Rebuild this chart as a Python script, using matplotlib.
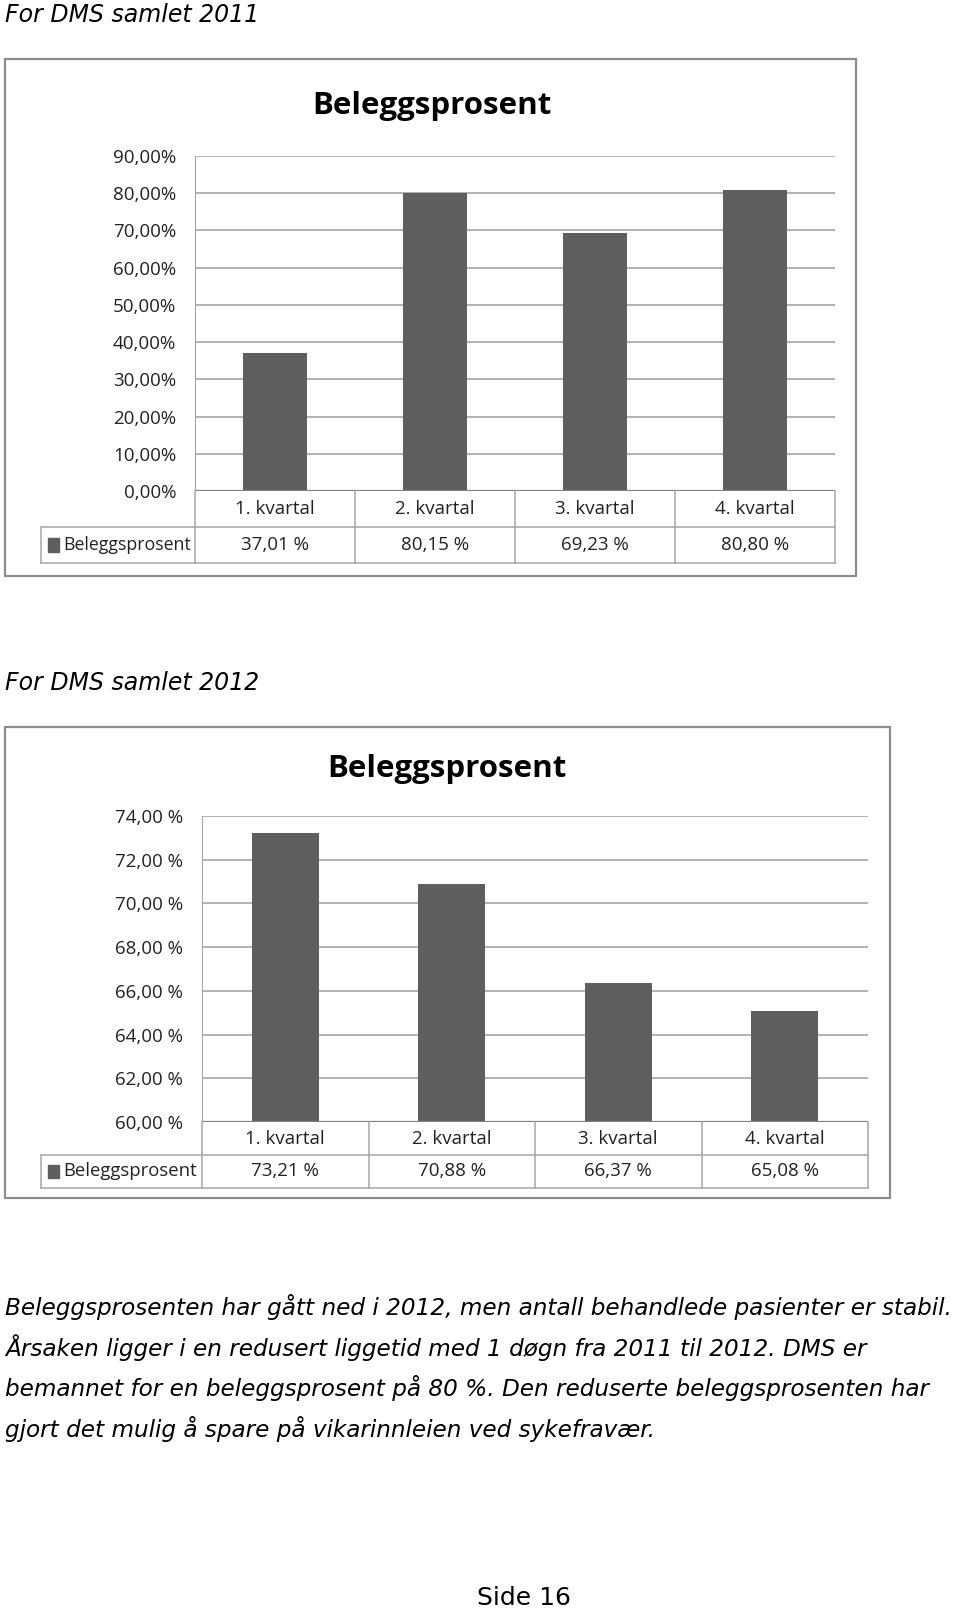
import matplotlib
matplotlib.use("Agg")
import matplotlib.pyplot as plt
from matplotlib.patches import Rectangle
from matplotlib.lines import Line2D

# ---------------- data ----------------
categories = ["1. kvartal", "2. kvartal", "3. kvartal", "4. kvartal"]
series_name = "Beleggsprosent"
values_2011 = [37.01, 80.15, 69.23, 80.80]
values_2012 = [73.21, 70.88, 66.37, 65.08]
yticks_2011 = [0, 10, 20, 30, 40, 50, 60, 70, 80, 90]
yticks_2012 = [60, 62, 64, 66, 68, 70, 72, 74]
heading_2011 = "For DMS samlet 2011"
heading_2012 = "For DMS samlet 2012"
chart_title = "Beleggsprosent"
paragraph = [
    "Beleggsprosenten har gått ned i 2012, men antall behandlede pasienter er stabil.",
    "Årsaken ligger i en redusert liggetid med 1 døgn fra 2011 til 2012. DMS er",
    "bemannet for en beleggsprosent på 80 %. Den reduserte beleggsprosenten har",
    "gjort det mulig å spare på vikarinnleien ved sykefravær.",
]
footer = "Side 16"

# ---------------- layout helpers ----------------
W, H = 960, 1611
fig = plt.figure(figsize=(W / 100, H / 100), dpi=100)
fig.patch.set_facecolor("white")

BAR = "#5f5f5f"
GRID = "#a6a6a6"
FRAME = "#8c8c8c"
CHART_FONT = ["Open Sans", "DejaVu Sans"]


def ax_px(l, t, r, b, **kw):
    a = fig.add_axes([l / W, 1 - b / H, (r - l) / W, (b - t) / H], **kw)
    a.patch.set_alpha(0)
    return a


def fx(x):
    return x / W


def fy(y):
    return 1 - y / H


def draw_chart(frame, plot, legend_left, row_h, values, yticks, sep, font, tsize, lsize,
               title_y, title_x):
    fl, ft, fr, fb = frame
    fig.patches.append(Rectangle((fx(fl), fy(fb)), (fr - fl) / W, (fb - ft) / H,
                                 transform=fig.transFigure, facecolor="none",
                                 edgecolor=FRAME, linewidth=1.6, zorder=-1))
    fig.text(fx(title_x), fy(title_y), chart_title, ha="center", va="center",
             fontsize=22.5, fontweight="bold", family=["Open Sans", "DejaVu Sans"])
    pl, pt, pr, pb = plot
    ax = ax_px(pl, pt, pr, pb)
    n = len(categories)
    xs = [i + 0.5 for i in range(n)]
    ax.bar(xs, values, width=0.4, color=BAR, zorder=3)
    ax.set_xlim(0, n)
    ax.set_ylim(yticks[0], yticks[-1])
    ax.set_yticks(yticks)
    ax.set_yticklabels([f"{t:.2f}".replace(".", ",") + sep + "%" for t in yticks],
                       family=font, fontsize=tsize, color="#222222")
    ax.tick_params(axis="y", length=0, pad=13.5)
    ax.set_xticks([])
    ax.yaxis.grid(True, color=GRID, linewidth=1.2, zorder=0)
    ax.set_axisbelow(True)
    for s in ["right", "bottom", "top"]:
        ax.spines[s].set_visible(False)
    ax.spines["left"].set_color(GRID)
    ax.axhline(yticks[0], color="#808080", linewidth=1.6, zorder=4)

    # data table under the plot
    tax = ax_px(legend_left, pb, pr, pb + 2 * row_h)
    tax.set_xlim(legend_left, pr)
    tax.set_ylim(2, 0)
    tax.axis("off")
    colw = (pr - pl) / n
    edges = [pl + i * colw for i in range(n + 1)]
    lc = GRID
    tax.add_line(Line2D([legend_left, pr], [1, 1], color=lc, lw=1.1))
    tax.add_line(Line2D([legend_left, pr], [2, 2], color=lc, lw=1.1, clip_on=False))
    for e in edges:
        tax.add_line(Line2D([e, e], [0, 2], color=lc, lw=1.1, clip_on=False))
    tax.add_line(Line2D([legend_left, legend_left], [1, 2], color=lc, lw=1.1, clip_on=False))
    for i, c in enumerate(categories):
        cx = (edges[i] + edges[i + 1]) / 2
        tax.text(cx, 0.5, c, ha="center", va="center", family=font, fontsize=tsize, color="#222222")
        tax.text(cx, 1.5, f"{values[i]:.2f}".replace(".", ",") + " %", ha="center", va="center",
                 family=font, fontsize=tsize, color="#222222")
    tax.add_patch(Rectangle((legend_left + 7, 1.3), 11, 0.4, color=BAR))
    tax.text(legend_left + 22, 1.5, series_name, ha="left", va="center",
             family=font, fontsize=lsize, color="#222222")
    return ax


HEAD_FONT = ["DejaVu Sans"]

# headings
fig.text(fx(5), fy(15), heading_2011, ha="left", va="center", fontsize=17,
         style="italic", family=HEAD_FONT)
fig.text(fx(5), fy(683), heading_2012, ha="left", va="center", fontsize=17,
         style="italic", family=HEAD_FONT)

# chart 2011
draw_chart(frame=(5, 59, 856, 576), plot=(195, 156, 835, 491), legend_left=41, row_h=36,
           values=values_2011, yticks=yticks_2011, sep="", font=CHART_FONT, tsize=13.5,
           lsize=12.8, title_y=106, title_x=432)

# chart 2012
draw_chart(frame=(5, 727, 890, 1198), plot=(202, 816, 868, 1122), legend_left=41, row_h=33,
           values=values_2012, yticks=yticks_2012, sep=" ", font=CHART_FONT,
           tsize=13.5, lsize=13.3, title_y=769, title_x=447)

# paragraph: fit first line to the target width
renderer = fig.canvas.get_renderer()
size = 17
probe = fig.text(0, 0, paragraph[0], fontsize=size, style="italic", family=HEAD_FONT)
wpx = probe.get_window_extent(renderer).width
probe.remove()
size = size * (950 / wpx)
for i, line in enumerate(paragraph):
    fig.text(fx(5), fy(1307 + i * 40.7), line, ha="left", va="center", fontsize=size,
             style="italic", family=HEAD_FONT)

fig.text(fx(524), fy(1598), footer, ha="center", va="center", fontsize=18, family=["DejaVu Sans"])

fig.savefig("out.png", dpi=100, facecolor="white")
